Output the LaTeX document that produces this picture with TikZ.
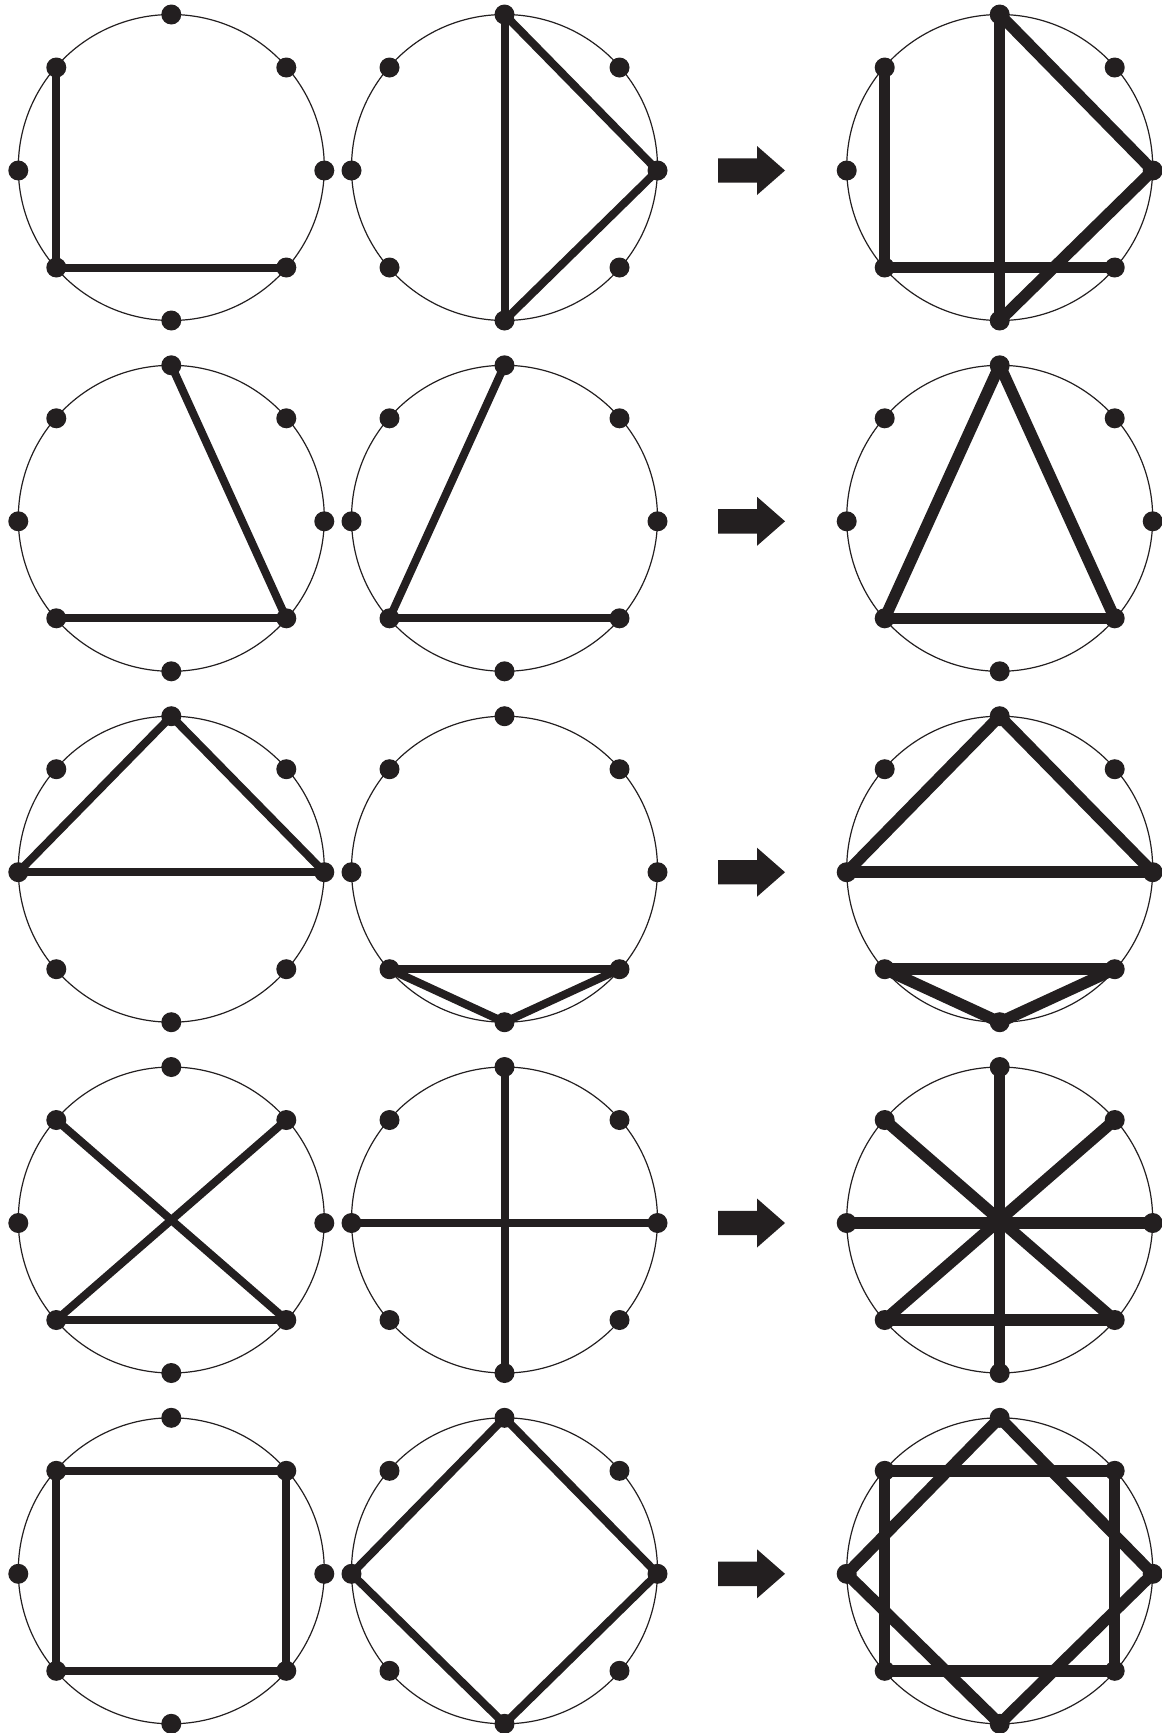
\documentclass[tikz,border=0pt]{standalone}
\definecolor{ink}{HTML}{231F20}
\pgfdeclarelayer{ringl}
\pgfdeclarelayer{edgel}
\pgfsetlayers{ringl,edgel,main}
\tikzset{
  ring/.style={draw=ink, line width=1.2pt},
  dot/.style={circle, fill=ink, inner sep=0pt, minimum size=20pt},
  thin edge/.style={draw=ink, line width=8pt},
  bold edge/.style={draw=ink, line width=11.5pt},
  bigarrow/.style={fill=ink}
}
% #1 name, #2 cx, #3 cy
\newcommand{\panel}[3]{%
  \begin{scope}[shift={(#2,#3)}]
    \begin{pgfonlayer}{ringl}\draw[ring] (0,0) circle[radius=153];\end{pgfonlayer}
    \node[dot] (#1-n)  at (0,-153) {};
    \node[dot] (#1-ne) at (115,-100) {};
    \node[dot] (#1-e)  at (153,3) {};
    \node[dot] (#1-se) at (115,100) {};
    \node[dot] (#1-s)  at (0,153) {};
    \node[dot] (#1-sw) at (-115,100) {};
    \node[dot] (#1-w)  at (-153,3) {};
    \node[dot] (#1-nw) at (-115,-100) {};
  \end{scope}}
% #1 style, #2 panel, #3 pairs
\newcommand{\links}[3]{%
  \begin{pgfonlayer}{edgel}
    \foreach \a/\b in {#3} \draw[#1] (#2-\a.center) -- (#2-\b.center);
  \end{pgfonlayer}}
\newcommand{\bigarr}[1]{%
  \fill[bigarrow] (718,#1-12.2) -- (757,#1-12.2) -- (757,#1-24.5) -- (785,#1)
    -- (757,#1+24.5) -- (757,#1+12.2) -- (718,#1+12.2) -- cycle;}
\begin{document}
\begin{tikzpicture}[x=1pt,y=-1pt]
\useasboundingbox (0,0) rectangle (1162,1733);
\foreach \r/\y in {1/167.5,2/518.3,3/869.2,4/1220,5/1570.8}{
  \panel{a\r}{171.3}{\y}
  \panel{b\r}{504.5}{\y}
  \panel{c\r}{999.7}{\y}
  \bigarr{\y+3}
}
% row 1
\links{thin edge}{a1}{nw/sw,sw/se}
\links{thin edge}{b1}{n/s,n/e,e/s}
\links{bold edge}{c1}{nw/sw,sw/se,n/s,n/e,e/s}
% row 2
\links{thin edge}{a2}{n/se,sw/se}
\links{thin edge}{b2}{n/sw,sw/se}
\links{bold edge}{c2}{n/sw,n/se,sw/se}
% row 3
\links{thin edge}{a3}{n/w,n/e,w/e}
\links{thin edge}{b3}{sw/se,sw/s,s/se}
\links{bold edge}{c3}{n/w,n/e,w/e,sw/se,sw/s,s/se}
% row 4
\links{thin edge}{a4}{nw/se,ne/sw,sw/se}
\links{thin edge}{b4}{n/s,w/e}
\links{bold edge}{c4}{nw/se,ne/sw,sw/se,n/s,w/e}
% row 5
\links{thin edge}{a5}{nw/ne,ne/se,se/sw,sw/nw}
\links{thin edge}{b5}{n/e,e/s,s/w,w/n}
\links{bold edge}{c5}{nw/ne,ne/se,se/sw,sw/nw,n/e,e/s,s/w,w/n}
\end{tikzpicture}
\end{document}
